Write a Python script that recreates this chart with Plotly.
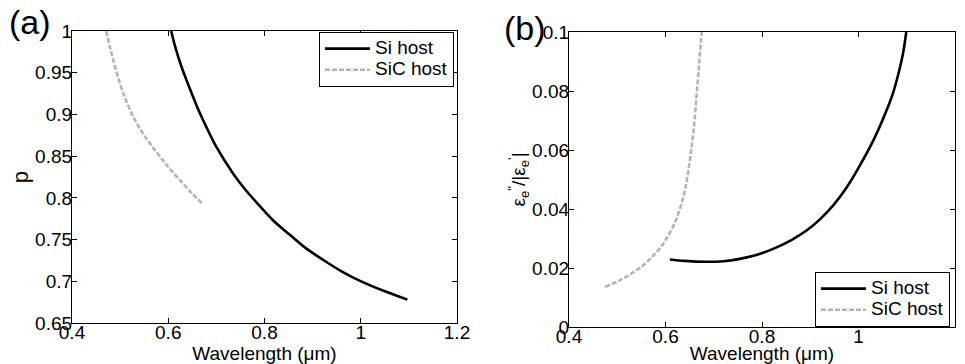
import plotly.graph_objects as go

# ---- data ----
# panel (a): p vs wavelength (µm)
a_si_x = [0.606, 0.615, 0.627, 0.640, 0.663, 0.685, 0.700, 0.735, 0.760, 0.789,
          0.820, 0.852, 0.885, 0.921, 0.960, 1.004, 1.050, 1.097]
a_si_y = [1.000, 0.980, 0.958, 0.938, 0.905, 0.878, 0.861, 0.829, 0.810, 0.791,
          0.772, 0.756, 0.740, 0.726, 0.712, 0.699, 0.688, 0.678]
a_sic_x = [0.471, 0.480, 0.493, 0.508, 0.525, 0.537, 0.551, 0.566, 0.582, 0.600,
           0.620, 0.645, 0.673]
a_sic_y = [1.000, 0.978, 0.950, 0.923, 0.900, 0.887, 0.874, 0.862, 0.850, 0.837,
           0.824, 0.808, 0.792]

# panel (b): eps''/|eps'| vs wavelength (µm)
b_si_x = [0.609, 0.640, 0.685, 0.720, 0.754, 0.790, 0.823, 0.860, 0.893, 0.920,
          0.948, 0.975, 1.003, 1.030, 1.051, 1.070, 1.083, 1.092, 1.099]
b_si_y = [0.0229, 0.0224, 0.0221, 0.0223, 0.0231, 0.0245, 0.0265, 0.0294, 0.0328, 0.0365,
          0.0413, 0.0472, 0.0548, 0.0630, 0.0706, 0.0785, 0.0860, 0.0925, 0.1000]
b_sic_x = [0.475, 0.505, 0.534, 0.556, 0.575, 0.590, 0.602, 0.617, 0.630, 0.641,
           0.651, 0.659, 0.665, 0.670, 0.675]
b_sic_y = [0.0136, 0.0158, 0.0186, 0.0212, 0.0243, 0.0270, 0.0300, 0.0345, 0.0401, 0.0470,
           0.0571, 0.0680, 0.0797, 0.0900, 0.1000]

x_ticks = [0.4, 0.6, 0.8, 1.0, 1.2]
x_tick_text = ["0.4", "0.6", "0.8", "1", "1.2"]
a_y_ticks = [0.65, 0.7, 0.75, 0.8, 0.85, 0.9, 0.95, 1.0]
a_y_tick_text = ["0.65", "0.7", "0.75", "0.8", "0.85", "0.9", "0.95", "1"]
b_y_ticks = [0, 0.02, 0.04, 0.06, 0.08, 0.1]
b_y_tick_text = ["0", "0.02", "0.04", "0.06", "0.08", "0.1"]

series_names = ["Si host", "SiC host"]

FONT = "Liberation Sans, Arial, sans-serif"
SI_COLOR = "#000000"
SIC_COLOR = "#b5b5b5"
SIC_DASH = "5px,2px"
W, H = 965, 364


def legend_label(name):
    return '<span style="font-size:19px">' + name + "</span>"


fig = go.Figure()
fig.add_trace(go.Scatter(x=a_si_x, y=a_si_y, mode="lines", name=legend_label(series_names[0]),
                         line=dict(color=SI_COLOR, width=2.6, shape="spline"),
                         xaxis="x", yaxis="y", legend="legend"))
fig.add_trace(go.Scatter(x=a_sic_x, y=a_sic_y, mode="lines", name=legend_label(series_names[1]),
                         line=dict(color=SIC_COLOR, width=2.6, dash=SIC_DASH, shape="spline"),
                         xaxis="x", yaxis="y", legend="legend"))
fig.add_trace(go.Scatter(x=b_si_x, y=b_si_y, mode="lines", name=legend_label(series_names[0]),
                         line=dict(color=SI_COLOR, width=2.6, shape="spline"),
                         xaxis="x2", yaxis="y2", legend="legend2"))
fig.add_trace(go.Scatter(x=b_sic_x, y=b_sic_y, mode="lines", name=legend_label(series_names[1]),
                         line=dict(color=SIC_COLOR, width=2.6, dash=SIC_DASH, shape="spline"),
                         xaxis="x2", yaxis="y2", legend="legend2"))

axis_common = dict(showline=True, mirror="ticks", linecolor="black", linewidth=1.2,
                   ticks="inside", ticklen=5, tickcolor="black", showgrid=False,
                   zeroline=False, automargin=False,
                   tickfont=dict(family=FONT, size=19, color="black"))

legend_common = dict(xanchor="left", yanchor="top",
                     bgcolor="white", bordercolor="black", borderwidth=1,
                     font=dict(family=FONT, size=14, color="black"),
                     tracegroupgap=0, itemwidth=45)

fig.update_layout(
    width=W, height=H,
    margin=dict(l=0, r=0, t=0, b=0),
    paper_bgcolor="white", plot_bgcolor="white",
    font=dict(family=FONT, size=19, color="black"),
    xaxis=dict(domain=[72 / W, 457 / W], range=[0.4, 1.2], anchor="y",
               tickvals=x_ticks, ticktext=x_tick_text, ticklabelstandoff=-8,
               title=dict(text="Wavelength (μm)", standoff=0, font=dict(size=19)),
               **axis_common),
    yaxis=dict(domain=[(H - 323) / H, (H - 31) / H], range=[0.65, 1.0], anchor="x",
               tickvals=a_y_ticks, ticktext=a_y_tick_text, ticklabelstandoff=-5,
               title=dict(text="p", standoff=0, font=dict(size=22)),
               **axis_common),
    xaxis2=dict(domain=[569 / W, 955 / W], range=[0.4, 1.2], anchor="y2",
                tickvals=x_ticks, ticktext=x_tick_text, ticklabelstandoff=-8,
                title=dict(text="Wavelength (μm)", standoff=0, font=dict(size=19)),
                **axis_common),
    yaxis2=dict(domain=[(H - 327) / H, (H - 32) / H], range=[0, 0.1], anchor="x2",
                tickvals=b_y_ticks, ticktext=b_y_tick_text, ticklabelstandoff=-5,
                title=dict(text="ε<sub>e</sub><sup>\"</sup>/|ε<sub>e</sub><sup>'</sup>|",
                           standoff=0, font=dict(size=19)),
                **axis_common),
    legend=dict(x=319 / W, y=1 - 32 / H, **legend_common),
    legend2=dict(x=815 / W, y=1 - 272 / H, **legend_common),
    showlegend=True,
)

fig.add_annotation(text="(a)", x=30 / W, y=1 - 22 / H, xref="paper", yref="paper",
                   xanchor="center", yanchor="middle", showarrow=False,
                   font=dict(family=FONT, size=34, color="black"))
fig.add_annotation(text="(b)", x=525 / W, y=1 - 28 / H, xref="paper", yref="paper",
                   xanchor="center", yanchor="middle", showarrow=False,
                   font=dict(family=FONT, size=34, color="black"))

fig.write_html("out.html", config={"displayModeBar": False},
               post_script="document.body.style.margin='0';document.body.style.overflow='hidden';")
